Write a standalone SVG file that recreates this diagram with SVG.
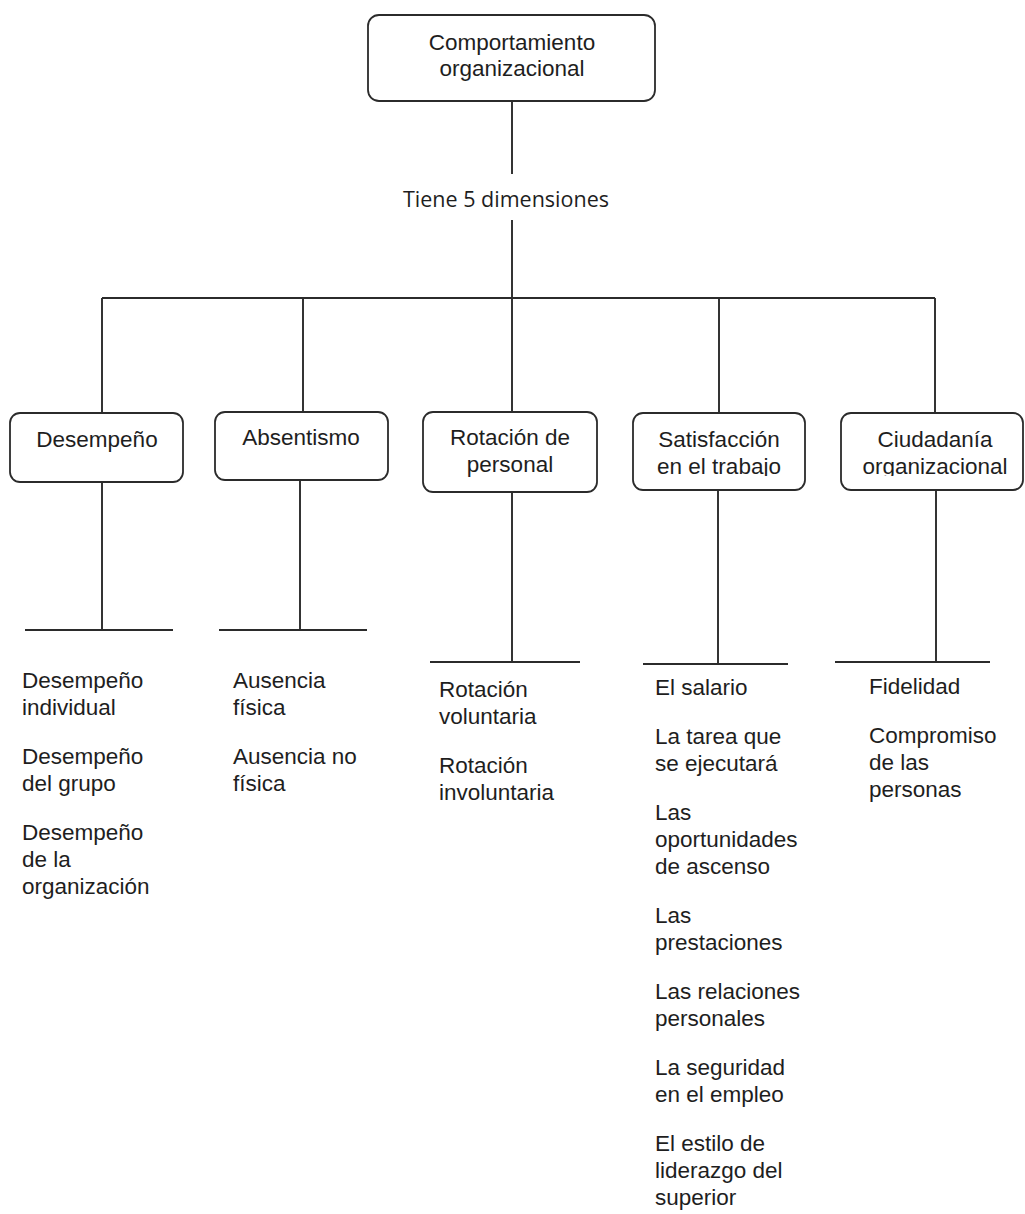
<svg xmlns="http://www.w3.org/2000/svg" width="1025" height="1214" viewBox="0 0 1025 1214">
<style>
.box{fill:#fff;stroke:#2b2b2b;stroke-width:1.8}
.ln{stroke:#2b2b2b;stroke-width:1.9;fill:none}
.t{font-family:"Liberation Sans",Arial,sans-serif;font-size:22.5px;fill:#1e1e1e}
.c{text-anchor:middle}
.lbl{font-family:"Open Sans","Noto Sans",sans-serif;font-size:21.5px;fill:#1e1e1e;text-anchor:middle}
</style>
<defs>
<clipPath id="clipSat"><rect x="633" y="413" width="172" height="63"/></clipPath>
<clipPath id="clipCiu"><rect x="841" y="413" width="182" height="63"/></clipPath>
</defs>
<rect width="1025" height="1214" fill="#fff"/>
<g id="connectors">
<path class="ln" d="M512 101V174M512 220V298M102 298H935M102 298V413M303 298V412M512 298V412M719 298V413M935 298V413"/>
<path class="ln" d="M102 482V630M25 630H173M300 480V630M219 630H367M512 492V662M430 662H580M718 490V664M643 664H788M936 490V662M835 662H990"/>
<text class="lbl" x="506" y="207">Tiene 5 dimensiones</text>
</g>
<g id="n-comportamiento">
<rect class="box" x="368" y="15" width="287" height="86" rx="11"/>
<text class="t c" x="512" y="50">Comportamiento</text>
<text class="t c" x="512" y="76">organizacional</text>
</g>
<g id="n-desempeno">
<rect class="box" x="10" y="413" width="173" height="69" rx="10"/>
<text class="t c" x="97" y="447">Desempeño</text>
</g>
<g id="n-absentismo">
<rect class="box" x="215" y="412" width="173" height="68" rx="10"/>
<text class="t c" x="301" y="445">Absentismo</text>
</g>
<g id="n-rotacion">
<rect class="box" x="423" y="412" width="174" height="80" rx="10"/>
<text class="t c" x="510" y="445">Rotación de</text>
<text class="t c" x="510" y="472">personal</text>
</g>
<g id="n-satisfaccion">
<rect class="box" x="633" y="413" width="172" height="77" rx="10"/>
<g clip-path="url(#clipSat)">
<text class="t c" x="719" y="447">Satisfacción</text>
<text class="t c" x="719" y="474">en el trabajo</text>
</g>
</g>
<g id="n-ciudadania">
<rect class="box" x="841" y="413" width="182" height="77" rx="10"/>
<g clip-path="url(#clipCiu)">
<text class="t c" x="935" y="447">Ciudadanía</text>
<text class="t c" x="935" y="474">organizacional</text>
</g>
</g>
<g id="l-desempeno" class="t">
<text x="22" y="688">Desempeño</text>
<text x="22" y="715">individual</text>
<text x="22" y="764">Desempeño</text>
<text x="22" y="791">del grupo</text>
<text x="22" y="840">Desempeño</text>
<text x="22" y="867">de la</text>
<text x="22" y="894">organización</text>
</g>
<g id="l-absentismo" class="t">
<text x="233" y="688">Ausencia</text>
<text x="233" y="715">física</text>
<text x="233" y="764">Ausencia no</text>
<text x="233" y="791">física</text>
</g>
<g id="l-rotacion" class="t">
<text x="439" y="697">Rotación</text>
<text x="439" y="724">voluntaria</text>
<text x="439" y="773">Rotación</text>
<text x="439" y="800">involuntaria</text>
</g>
<g id="l-satisfaccion" class="t">
<text x="655" y="695">El salario</text>
<text x="655" y="744">La tarea que</text>
<text x="655" y="771">se ejecutará</text>
<text x="655" y="820">Las</text>
<text x="655" y="847">oportunidades</text>
<text x="655" y="874">de ascenso</text>
<text x="655" y="923">Las</text>
<text x="655" y="950">prestaciones</text>
<text x="655" y="999">Las relaciones</text>
<text x="655" y="1026">personales</text>
<text x="655" y="1075">La seguridad</text>
<text x="655" y="1102">en el empleo</text>
<text x="655" y="1151">El estilo de</text>
<text x="655" y="1178">liderazgo del</text>
<text x="655" y="1205">superior</text>
</g>
<g id="l-ciudadania" class="t">
<text x="869" y="694">Fidelidad</text>
<text x="869" y="743">Compromiso</text>
<text x="869" y="770">de las</text>
<text x="869" y="797">personas</text>
</g>
</svg>
